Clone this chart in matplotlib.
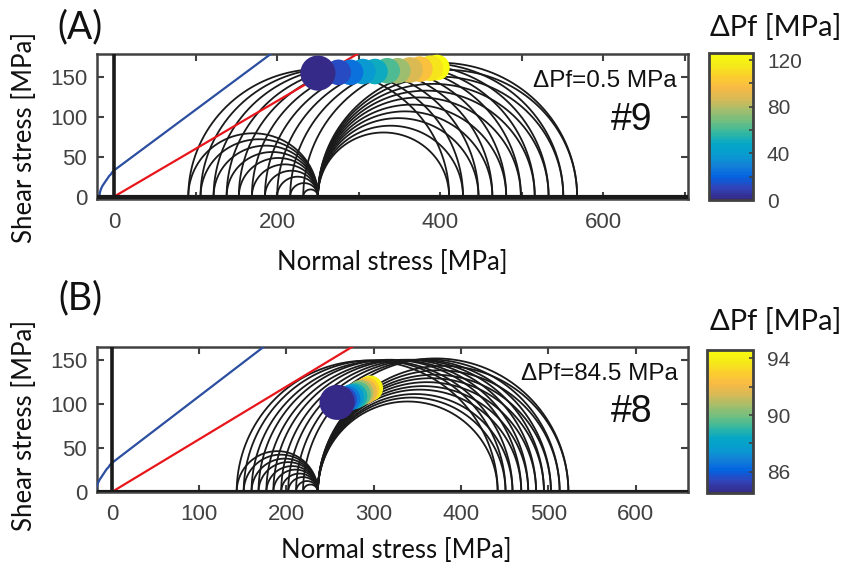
import numpy as np
import matplotlib.pyplot as plt
from matplotlib.colors import LinearSegmentedColormap, Normalize
from matplotlib.cm import ScalarMappable

plt.rcParams['font.family'] = ['Liberation Sans', 'DejaVu Sans']
LABEL_FONT = ['Lato', 'Open Sans', 'DejaVu Sans']
GRAY = '#414141'

# parula (MATLAB) anchor colours
parula_rgb = [
    (0.2081, 0.1663, 0.5292), (0.1959, 0.2645, 0.7279), (0.0117, 0.3875, 0.8820),
    (0.0779, 0.5040, 0.8384), (0.0265, 0.6137, 0.8135), (0.0228, 0.6535, 0.7768),
    (0.2178, 0.7250, 0.6193), (0.4420, 0.7481, 0.5033), (0.6473, 0.7456, 0.4188),
    (0.8507, 0.7299, 0.3360), (0.9739, 0.7314, 0.2666), (0.9880, 0.8066, 0.1794),
    (0.9598, 0.9218, 0.0948), (0.9763, 0.9831, 0.0538)]
parula = LinearSegmentedColormap.from_list('parula', parula_rgb, N=64)

# ---- panel A (#9): principal stresses of each step [MPa]
s3_A = [91, 106, 122, 138, 153, 169, 185, 200, 216, 232]
s1_A = [411, 428, 447, 464, 481, 499, 516, 533, 551, 568]
s2_A = 250
# fault-plane stress points, coloured by pore pressure change
dotx_A = [250, 275, 290, 305, 320, 335, 348, 363, 375, 388, 396]
doty_A = [155, 156, 156, 157, 157, 158, 158, 159, 160, 161, 162]
dpf_A = [0.5, 12.5, 25, 37.5, 50, 62.5, 75, 87.5, 100, 112.5, 125]

# ---- panel B (#8)
s3_B = [143, 151, 160, 168, 177, 185, 194, 202, 211, 219]
s1_B = [442, 451, 459, 469, 477, 486, 495, 503, 513, 523]
s2_B = 236
dotx_B = [258, 266, 270, 274, 278, 282, 285, 289, 292, 296]
doty_B = [102, 105, 106, 108, 109, 111, 113, 114, 116, 118]
dpf_B = [84.5, 85.5, 86.6, 87.6, 88.7, 89.7, 90.8, 91.8, 92.9, 94.0]

# failure envelopes
env_x = [-18, -17.5, -16, -14, -12, -10, -8, -6, -4, -2, 0, 250]
env_y = [0, 5, 10, 14, 17, 20, 23, 26, 28, 31, 33, 223]
fric_x = [0, 320]
fric_y = [0, 192]

fig = plt.figure(figsize=(8.49, 5.67), dpi=100)
W, H = 849, 567


def fx(p):
    return p / W


def fy(p):
    return 1 - p / H


def half_circle(ax, a, b):
    c = (a + b) / 2
    r = (b - a) / 2
    t = np.linspace(0, np.pi, 300)
    ax.plot(c + r * np.cos(t), r * np.sin(t), color='#1a1a1a', lw=1.3, zorder=2)


def panel(rect, s3, s1, s2, dx, dy, dpf, clim, xlim, ylim, xticks, xlabels,
          cb_rect, cb_ticks, cb_minor):
    ax = fig.add_axes(rect)
    norm = Normalize(*clim)
    ax.plot(env_x, env_y, color='#2b4ea0', lw=1.6, zorder=3)
    ax.plot(fric_x, fric_y, color='#e8161b', lw=1.6, zorder=3)
    ax.axvline(0, color='#1a1a1a', lw=2.6, zorder=3)
    ax.axhline(0, color='#1a1a1a', lw=3.0, zorder=3)
    for a, b in zip(s3, s2 * np.ones(len(s3))):
        half_circle(ax, a, b)
    for a, b in zip(s2 * np.ones(len(s1)), s1):
        half_circle(ax, a, b)
    for a, b in zip(s3, s1):
        half_circle(ax, a, b)
    # later steps underneath, first step on top and larger
    for i in range(len(dx) - 1, -1, -1):
        size = 640 if i == 0 else 340
        ax.scatter(dx[i], dy[i], s=size, color=parula(norm(dpf[i])),
                   marker='o', edgecolors='none', zorder=5 + len(dx) - i)
    ax.set_xlim(xlim)
    ax.set_ylim(ylim)
    ax.set_xticks(xticks)
    ax.set_xticklabels(xlabels)
    ax.set_yticks([0, 50, 100, 150])
    ax.tick_params(direction='in', length=5, width=1.5, color=GRAY,
                   labelcolor=GRAY, labelsize=16, top=True, right=True)
    ax.tick_params(axis='x', pad=9)
    ax.tick_params(axis='y', pad=7)
    for s in ax.spines.values():
        s.set_color(GRAY)
        s.set_linewidth(1.8)

    cax = fig.add_axes(cb_rect)
    cb = fig.colorbar(ScalarMappable(norm=norm, cmap=parula), cax=cax)
    cb.set_ticks(cb_minor)
    cb.set_ticklabels([str(v) if v in cb_ticks else '' for v in cb_minor])
    cax.tick_params(direction='in', length=3, width=1.2, color=GRAY,
                    labelcolor=GRAY, labelsize=15, pad=10)
    cb.outline.set_edgecolor(GRAY)
    cb.outline.set_linewidth(2.0)
    return ax


panel([fx(97), fy(199), (688 - 97) / W, 145 / H],
      s3_A, s1_A, s2_A, dotx_A, doty_A, dpf_A, (0, 126),
      (-21, 704), (-3, 179), [0, 100, 200, 300, 400, 500, 600, 700],
      ['0', '', '200', '', '400', '', '600', ''],
      [fx(709), fy(200), 44 / W, 147 / H], [0, 40, 80, 120],
      [0, 20, 40, 60, 80, 100, 120])

panel([fx(97), fy(492), (688 - 97) / W, 145 / H],
      s3_B, s1_B, s2_B, dotx_B, doty_B, dpf_B, (84.5, 94.6),
      (-17, 660), (0, 165), [0, 100, 200, 300, 400, 500, 600],
      ['0', '100', '200', '300', '400', '500', '600'],
      [fx(707), fy(493), 46 / W, 143 / H], [86, 90, 94],
      [86, 88, 90, 92, 94])

# texts
for y, s in [(27, '(A)'), (298, '(B)')]:
    fig.text(fx(80), fy(y), s, ha='center', va='center', fontsize=27,
             family=LABEL_FONT, color='#111111')
for y in (137, 425):
    fig.text(fx(25), fy(y), 'Shear stress [MPa]', rotation=90, ha='center',
             va='center', fontsize=18.5, family=LABEL_FONT, color='#111111')
for x, y in [(392, 262), (396, 550)]:
    fig.text(fx(x), fy(y), 'Normal stress [MPa]', ha='center', va='center',
             fontsize=18.5, family=LABEL_FONT, color='#111111')
for y in (27, 322):
    fig.text(fx(776), fy(y), 'ΔPf [MPa]', ha='center', va='center',
             fontsize=21, family=LABEL_FONT, color='#111111')

fig.text(fx(677), fy(81), 'ΔPf=0.5 MPa', ha='right', va='center',
         fontsize=17.5, color='#111111')
fig.text(fx(632), fy(120), '#9', ha='center', va='center', fontsize=27,
         color='#111111')
fig.text(fx(678), fy(374), 'ΔPf=84.5 MPa', ha='right', va='center',
         fontsize=17.5, color='#111111')
fig.text(fx(632), fy(412), '#8', ha='center', va='center', fontsize=27,
         color='#111111')

fig.savefig('out.png', dpi=100)
